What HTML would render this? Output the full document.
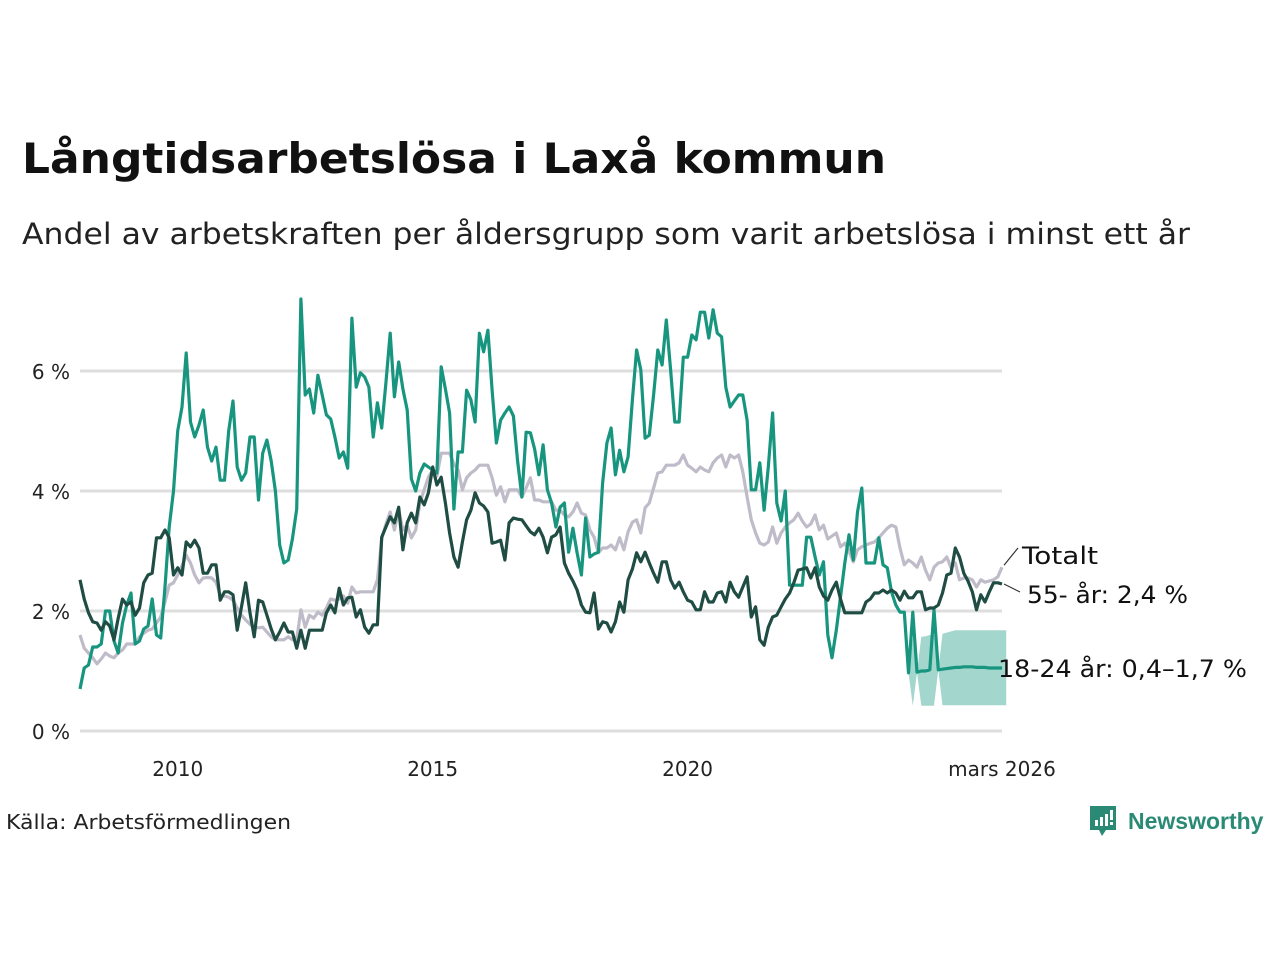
<!DOCTYPE html>
<html><head><meta charset="utf-8">
<style>
html,body{margin:0;padding:0;background:#fff;}
body{width:1280px;height:960px;position:relative;overflow:hidden;font-family:"DejaVu Sans","Liberation Sans",sans-serif;color:#111;}
.fit{transform-origin:0 0;white-space:nowrap;display:inline-block;}
#title{position:absolute;left:22px;top:134px;font-size:42px;font-weight:bold;margin:0;}
#subtitle{position:absolute;left:22px;top:217px;font-size:29px;margin:0;color:#222;}
#source{position:absolute;left:6px;top:810px;font-size:20px;color:#222;}
#logo{position:absolute;left:1088px;top:804px;display:flex;align-items:center;}
#logo span{font-size:23px;font-weight:bold;color:#2a8a76;margin-left:10px;font-family:"Liberation Sans",sans-serif;}
svg text{font-family:"DejaVu Sans","Liberation Sans",sans-serif;}
</style></head>
<body>
<h1 id="title" class="fit" data-w="864">Långtidsarbetslösa i Laxå kommun</h1>
<p id="subtitle" class="fit" data-w="1168">Andel av arbetskraften per åldersgrupp som varit arbetslösa i minst ett år</p>
<svg id="chart" width="1280" height="960" style="position:absolute;left:0;top:0"></svg>
<div id="source" class="fit" data-w="285">Källa: Arbetsförmedlingen</div>
<div id="logo">
<svg width="30" height="34" viewBox="0 0 30 34"><path d="M2 2h26v24H18l-4 6-3-6H2z" fill="#2a8a76"/><rect x="7" y="16" width="3" height="6" fill="#fff"/><rect x="12" y="13" width="3" height="9" fill="#fff"/><rect x="17" y="10" width="3" height="12" fill="#fff"/><rect x="22" y="6" width="3" height="10" fill="#fff"/><rect x="22" y="18" width="3" height="3" fill="#fff"/></svg>
<span>Newsworthy</span>
</div>
<script>
const startYear = 2008, startMonth = 1; // Feb 2008
const yTicks = [0, 2, 4, 6];
const yTickLabels = ["0 %", "2 %", "4 %", "6 %"];
const xTickYears = [2010, 2015, 2020];
const xTickLabels = ["2010", "2015", "2020"];
const youth = [
0.7,1.05,1.1,1.4,1.4,1.45,2.0,2.0,1.5,1.3,1.8,
2.1,2.3,1.45,1.5,1.7,1.75,2.2,1.6,1.55,2.4,3.4,4.0,
5.0,5.4,6.3,5.15,4.9,5.1,5.35,4.73,4.5,4.73,4.18,4.18,
5.0,5.5,4.4,4.18,4.3,4.9,4.9,3.85,4.63,4.85,4.5,4.0,
3.1,2.8,2.85,3.2,3.7,7.2,5.6,5.7,5.3,5.93,5.6,5.27,
5.2,4.9,4.55,4.65,4.38,6.88,5.73,5.97,5.9,5.73,4.9,5.47,
5.05,5.8,6.63,5.57,6.15,5.7,5.35,4.2,4.0,4.3,4.45,4.4,
4.35,4.3,6.07,5.7,5.3,3.7,4.65,4.65,5.68,5.52,5.15,6.63,
6.32,6.68,5.68,4.8,5.18,5.3,5.4,5.25,4.5,3.9,4.98,4.97,
4.7,4.27,4.77,4.02,3.8,3.4,3.73,3.8,2.98,3.38,2.97,2.6,
3.55,2.9,2.95,2.98,4.13,4.8,5.05,4.27,4.68,4.32,4.57,5.52,
6.35,6.02,4.88,4.93,5.6,6.35,6.1,6.85,6.02,5.15,5.15,6.23,
6.23,6.6,6.52,6.98,6.98,6.55,7.02,6.63,6.57,5.73,5.4,5.5,
5.6,5.6,5.18,4.02,4.02,4.47,3.68,4.4,5.3,3.8,3.5,4.0,
2.43,2.43,2.43,2.43,3.23,3.23,2.9,2.6,2.82,1.6,1.22,1.68,
2.23,2.8,3.27,2.85,3.65,4.05,2.8,2.8,2.8,3.22,2.77,2.72,
2.32,2.1,1.98,1.98,0.97,1.98,0.98,1.0,1.0,1.02,2.02,1.02,
1.03,1.04,1.05,1.06,1.06,1.07,1.07,1.07,1.06,1.06,1.06,1.05,
1.05,1.05,1.05];
const youthLow = new Array(196).fill(null).concat([
0.42,null,0.42,0.42,0.42,0.42,null,0.43,
0.43,0.43,0.43,0.43,0.43,0.43,0.43,0.43,0.43,0.43,0.43,0.43,
0.43,0.43,0.43]);
const youthHigh = new Array(196).fill(null).concat([
1.55,null,1.57,1.58,1.6,1.6,null,1.62,
1.64,1.66,1.68,1.68,1.68,1.68,1.68,1.68,1.68,1.68,1.68,1.68,
1.68,1.68,1.68]);
const older = [
2.52,2.2,1.97,1.82,1.8,1.68,1.82,1.75,1.52,1.88,2.2,
2.1,2.15,1.93,2.05,2.47,2.6,2.63,3.22,3.22,3.35,3.22,2.6,
2.72,2.6,3.15,3.07,3.18,3.05,2.63,2.63,2.77,2.77,2.18,2.32,
2.32,2.27,1.68,2.07,2.47,1.97,1.57,2.18,2.15,1.93,1.7,1.52,
1.65,1.8,1.65,1.65,1.38,1.68,1.38,1.68,1.68,1.68,1.68,1.97,
2.1,1.97,2.38,2.1,2.22,2.23,1.9,2.02,1.73,1.63,1.77,1.77,
3.23,3.4,3.57,3.47,3.73,3.02,3.47,3.63,3.47,3.9,3.77,3.97,
4.4,4.1,4.23,3.8,3.3,2.9,2.73,3.15,3.52,3.68,3.97,3.8,
3.75,3.65,3.13,3.15,3.18,2.85,3.47,3.55,3.53,3.52,3.42,3.32,
3.27,3.38,3.23,2.97,3.23,3.27,3.4,2.8,2.63,2.5,2.35,2.1,
1.98,1.97,2.3,1.7,1.82,1.8,1.65,1.82,2.15,1.98,2.52,2.7,
2.97,2.82,2.98,2.8,2.63,2.48,2.82,2.82,2.52,2.38,2.48,2.32,
2.18,2.15,2.02,2.02,2.32,2.15,2.15,2.3,2.32,2.15,2.48,2.32,
2.23,2.4,2.57,1.9,2.07,1.52,1.43,1.73,1.9,1.93,2.07,2.2,
2.3,2.47,2.68,2.7,2.72,2.55,2.72,2.4,2.25,2.18,2.35,2.48,
2.2,1.97,1.97,1.97,1.97,1.97,2.15,2.2,2.3,2.3,2.35,2.3,
2.35,2.3,2.18,2.33,2.22,2.22,2.32,2.32,2.02,2.05,2.05,2.1,
2.3,2.6,2.63,3.05,2.9,2.63,2.5,2.32,2.02,2.27,2.15,2.32,
2.47,2.47,2.45];
const total = [
1.6,1.38,1.3,1.22,1.12,1.2,1.3,1.25,1.22,1.3,1.35,
1.45,1.45,1.45,1.57,1.63,1.68,1.7,1.8,1.9,2.15,2.43,2.47,
2.6,2.75,2.93,2.8,2.6,2.47,2.55,2.56,2.55,2.48,2.27,2.25,
2.23,2.18,2.05,1.93,1.85,1.78,1.73,1.72,1.73,1.65,1.57,1.52,
1.52,1.52,1.57,1.52,1.52,2.02,1.73,1.93,1.88,1.98,1.93,2.05,
2.2,2.18,2.2,2.25,2.13,2.4,2.3,2.32,2.32,2.32,2.32,2.52,
3.2,3.45,3.65,3.35,3.68,3.35,3.43,3.22,3.35,3.8,4.02,4.23,
4.35,4.25,4.63,4.63,4.63,4.45,4.35,4.02,4.22,4.3,4.35,4.43,
4.43,4.43,4.22,3.93,4.07,3.82,4.02,4.02,4.02,3.9,4.05,4.22,
3.85,3.85,3.82,3.82,3.82,3.68,3.68,3.6,3.57,3.65,3.8,3.63,
3.6,3.35,3.23,2.97,3.05,3.05,3.1,3.02,3.22,3.02,3.32,3.48,
3.52,3.3,3.72,3.8,4.05,4.3,4.32,4.43,4.43,4.43,4.47,4.6,
4.43,4.38,4.32,4.4,4.35,4.32,4.47,4.55,4.6,4.4,4.6,4.55,
4.6,4.32,3.9,3.52,3.3,3.13,3.1,3.15,3.4,3.13,3.3,3.4,
3.47,3.52,3.63,3.5,3.4,3.45,3.6,3.35,3.43,3.2,3.25,3.3,
3.07,3.13,3.0,2.82,3.02,3.07,3.1,3.13,3.15,3.22,3.3,3.38,
3.43,3.4,3.05,2.77,2.85,2.8,2.73,2.9,2.68,2.52,2.73,2.8,
2.82,2.9,2.72,2.8,2.52,2.55,2.55,2.52,2.4,2.52,2.48,2.5,
2.52,2.57,2.73];

const NS = "http://www.w3.org/2000/svg";
const svg = document.getElementById('chart');
const plotLeft = 80, plotRight = 1002;
const nPts = total.length;
const pxPerMonth = (plotRight - plotLeft) / (nPts - 1);
function xOfIndex(i){ return plotLeft + i * pxPerMonth; }
function xOfYear(t){ return xOfIndex((t - startYear) * 12 - startMonth); }
function yOf(v){ return 731 - v * 60; }
function mk(tag, attrs){ const e = document.createElementNS(NS, tag); for (const k in attrs) e.setAttribute(k, attrs[k]); svg.appendChild(e); return e; }

yTicks.forEach((v, k) => {
  const g = mk('line', {x1: plotLeft, x2: plotRight, y1: yOf(v), y2: yOf(v), stroke: '#dedede', 'stroke-width': 3});
  
  
  const t = mk('text', {x: 70, y: yOf(v) + 8, 'text-anchor': 'end', 'font-size': 20, fill: '#222'});
  t.textContent = yTickLabels[k];
  
  
});
xTickYears.forEach((yr, k) => {
  const t = mk('text', {x: xOfYear(yr), y: 776, 'text-anchor': 'middle', 'font-size': 20, fill: '#222'});
  t.textContent = xTickLabels[k];
  
  
});
const lastT = mk('text', {x: plotRight, y: 776, 'text-anchor': 'middle', 'font-size': 20, fill: '#222'});
lastT.textContent = 'mars 2026';



(function(){
  let i = 0;
  while (i < youthLow.length) {
    if (youthLow[i] == null) { i++; continue; }
    let j = i; while (j + 1 < youthLow.length && youthLow[j + 1] != null) j++;
    const top = [], bot = [];
    if (i > 0) { top.push([xOfIndex(i - 1), yOf(youth[i - 1])]); }
    for (let k = i; k <= j; k++) { top.push([xOfIndex(k), yOf(youthHigh[k])]); bot.push([xOfIndex(k), yOf(youthLow[k])]); }
    if (j + 1 < youth.length) top.push([xOfIndex(j + 1), yOf(youth[j + 1])]);
    const pts = top.concat(bot.reverse()).map(p => p[0].toFixed(1) + ',' + p[1].toFixed(1)).join(' ');
    const b = mk('polygon', {points: pts, fill: '#a3d6cc'});
    
    
    i = j + 1;
  }
})();

function line(arr, color, name){
  const d = arr.map((v, i) => (i ? 'L' : 'M') + xOfIndex(i).toFixed(1) + ',' + yOf(v).toFixed(1)).join('');
  const p = mk('path', {d: d, fill: 'none', stroke: color, 'stroke-width': 3.2, 'stroke-linejoin': 'round'});
  
  
}
line(total, '#bfbbc9', 'total-line');
line(youth, '#17957f', 'youth-18-24-line');
line(older, '#1f4c43', 'older-55-line');

const lastX = xOfIndex(nPts - 1);
const l1 = mk('line', {x1: lastX + 2, y1: yOf(total[nPts - 1]) - 2, x2: 1018, y2: 548, stroke: '#333', 'stroke-width': 1.2});


const l2 = mk('line', {x1: lastX + 2, y1: yOf(older[nPts - 1]), x2: 1020, y2: 592, stroke: '#333', 'stroke-width': 1.2});


const lab1 = mk('text', {x: 1022, y: 564, 'font-size': 24, fill: '#111', textLength: 76, lengthAdjust: 'spacingAndGlyphs'});
lab1.textContent = 'Totalt';


const lab2 = mk('text', {x: 1027, y: 603, 'font-size': 24, fill: '#111', textLength: 161, lengthAdjust: 'spacingAndGlyphs'});
lab2.textContent = '55- år: 2,4 %';


const lab3 = mk('text', {x: 998, y: 677, 'font-size': 24, fill: '#111', textLength: 249, lengthAdjust: 'spacingAndGlyphs'});
lab3.textContent = '18-24 år: 0,4–1,7 %';



document.querySelectorAll('.fit').forEach(el => {
  const w = el.getBoundingClientRect().width;
  const target = +el.getAttribute('data-w');
  if (w > 0) el.style.transform = 'scaleX(' + (target / w).toFixed(4) + ')';
});
</script>
</body></html>
